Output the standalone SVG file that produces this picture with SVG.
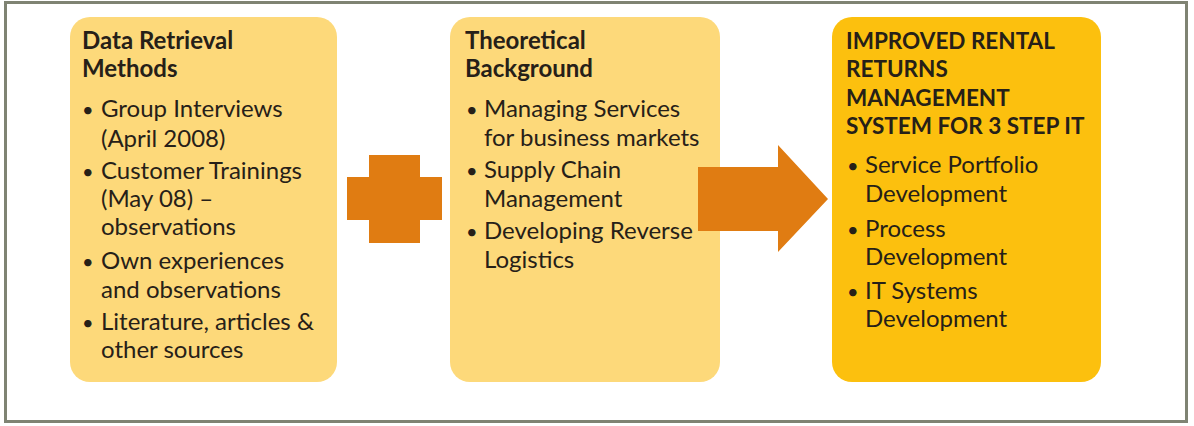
<svg xmlns="http://www.w3.org/2000/svg" width="1194" height="426" viewBox="0 0 1194 426">
<style>
text{font-family:Lato,"Open Sans","Liberation Sans",sans-serif;fill:#262018;font-size:24px}
.t{font-weight:bold}
.tc{font-weight:bold;font-size:22.5px}
.b{font-size:20px}
.light{fill:#fdd97a}
.gold{fill:#fcc00e}
.or{fill:#e07c12}
</style>
<rect x="0" y="0" width="1194" height="426" fill="#ffffff"/>
<rect x="5.5" y="2.5" width="1181" height="419" fill="#ffffff" stroke="#7f8373" stroke-width="3"/>
<g id="node-data">
<rect class="light" x="70" y="17" width="267" height="365" rx="20"/>
<text class="t" x="82" y="49">Data Retrieval</text>
<text class="t" x="82" y="77">Methods</text>
<text class="b" x="82" y="117">•</text><text x="101" y="117">Group Interviews</text>
<text x="101" y="147">(April 2008)</text>
<text class="b" x="82" y="179">•</text><text x="101" y="179">Customer Trainings</text>
<text x="101" y="207">(May 08) –</text>
<text x="101" y="235">observations</text>
<text class="b" x="82" y="269">•</text><text x="101" y="269">Own experiences</text>
<text x="101" y="298">and observations</text>
<text class="b" x="82" y="330">•</text><text x="101" y="330">Literature, articles &amp;</text>
<text x="101" y="358">other sources</text>
</g>
<g id="node-theory">
<rect class="light" x="450" y="17" width="270" height="365" rx="20"/>
<text class="t" x="465" y="49">Theoretical</text>
<text class="t" x="465" y="77">Background</text>
<text class="b" x="466" y="117">•</text><text x="484" y="117">Managing Services</text>
<text x="484" y="146">for business markets</text>
<text class="b" x="466" y="178">•</text><text x="484" y="178">Supply Chain</text>
<text x="484" y="207">Management</text>
<text class="b" x="466" y="239">•</text><text x="484" y="239">Developing Reverse</text>
<text x="484" y="268">Logistics</text>
</g>
<g id="node-result">
<rect class="gold" x="832" y="17" width="269" height="365" rx="20"/>
<text class="tc" x="846" y="49">IMPROVED RENTAL</text>
<text class="tc" x="846" y="77">RETURNS</text>
<text class="tc" x="846" y="106">MANAGEMENT</text>
<text class="tc" x="846" y="134">SYSTEM FOR 3 STEP IT</text>
<text class="b" x="847" y="173">•</text><text x="865" y="173">Service Portfolio</text>
<text x="865" y="202">Development</text>
<text class="b" x="847" y="237">•</text><text x="865" y="237">Process</text>
<text x="865" y="265">Development</text>
<text class="b" x="847" y="299">•</text><text x="865" y="299">IT Systems</text>
<text x="865" y="327">Development</text>
</g>
<g id="connectors">
<path id="plus" class="or" d="M369,155 H420 V177 H442 V220 H420 V243 H369 V220 H347 V177 H369 Z"/>
<path id="arrow" class="or" d="M698,167 H778 V145 L828,199 L778,252 V231 H698 Z"/>
</g>
</svg>
